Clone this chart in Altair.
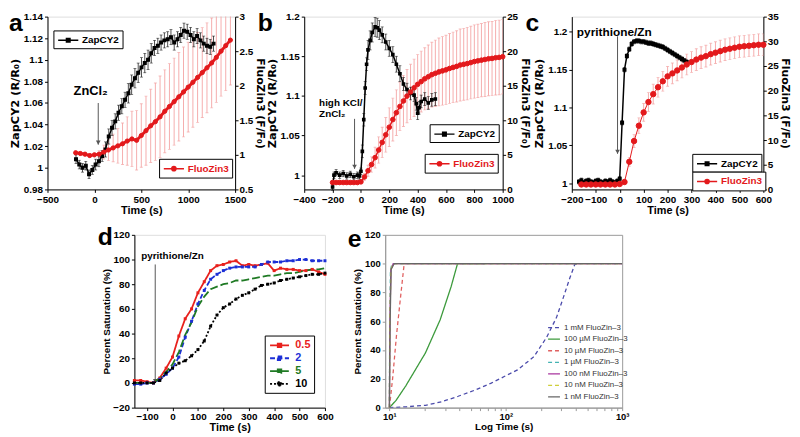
import altair as alt
import pandas as pd

FONT = "Liberation Sans"
TFONT = "DejaVu Sans"
RED = "#e3191c"
PINK = "#f4a4a4"
GRAY = "#555555"

# ---------------- panel a ----------------
a_zap_t = [-196, -161, -127, -92, -57, -22, 13, 48, 83, 118, 153, 188, 222, 257, 292, 327, 362, 397, 432, 467,
           502, 537, 572, 606, 641, 676, 711, 746, 781, 816, 851, 886, 920, 955, 990, 1025, 1060, 1095, 1130,
           1165, 1200, 1235, 1270]
a_zap_v = [1.008, 1.003, 1.000, 1.002, 0.994, 0.998, 1.003, 1.006, 1.011, 1.017, 1.029, 1.037, 1.043, 1.051,
           1.057, 1.063, 1.069, 1.077, 1.083, 1.088, 1.093, 1.097, 1.100, 1.106, 1.111, 1.113, 1.116, 1.118,
           1.119, 1.121, 1.116, 1.119, 1.123, 1.127, 1.126, 1.123, 1.119, 1.122, 1.118, 1.115, 1.113, 1.112, 1.115]
a_zap_e = [0.004, 0.004, 0.004, 0.004, 0.004, 0.004, 0.005, 0.005, 0.005, 0.007, 0.007, 0.007, 0.007, 0.007,
           0.007, 0.007, 0.009, 0.009, 0.009, 0.009, 0.009, 0.009, 0.009, 0.009, 0.007, 0.007, 0.007, 0.007,
           0.007, 0.007, 0.007, 0.007, 0.007, 0.007, 0.007, 0.007, 0.007, 0.007, 0.007, 0.007, 0.007, 0.007, 0.007]
a_fz_t = [-200, -150, -100, -50, 0, 50, 100, 150, 200, 250, 300, 350, 400, 450, 500, 550, 600, 650, 700, 750,
          800, 850, 900, 950, 1000, 1050, 1100, 1150, 1200, 1250, 1300, 1350, 1400, 1450]
a_fz_v = [1.03, 1.02, 1.01, 0.99, 1.0, 1.01, 1.04, 1.07, 1.1, 1.13, 1.16, 1.2, 1.23, 1.21, 1.28, 1.35, 1.42,
          1.48, 1.55, 1.63, 1.7, 1.77, 1.84, 1.91, 1.98, 2.05, 2.12, 2.19, 2.26, 2.33, 2.41, 2.5, 2.58, 2.66]
a_fz_e = [0.03, 0.03, 0.03, 0.03, 0.03, 0.05, 0.1, 0.15, 0.2, 0.25, 0.3, 0.35, 0.4, 0.43, 0.46, 0.5, 0.53,
          0.56, 0.59, 0.6, 0.62, 0.63, 0.64, 0.65, 0.65, 0.65, 0.65, 0.65, 0.65, 0.65, 0.65, 0.65, 0.65, 0.65]

# ---------------- panel b ----------------
b_zap_t = [-200, -190, -175, -150, -125, -100, -75, -50, -25, -10, 0, 10, 20, 30, 40, 50, 65, 80, 100, 115,
           130, 150, 175, 200, 225, 250, 275, 300, 325, 350, 375, 390, 400, 410, 425, 450, 475, 500, 525]
b_zap_v = [0.985, 1.0, 1.003, 1.0, 1.002, 0.999, 1.001, 0.998, 1.0, 0.999, 1.005, 1.03, 1.07, 1.11, 1.14,
           1.158, 1.17, 1.18, 1.187, 1.186, 1.183, 1.177, 1.168, 1.16, 1.152, 1.14, 1.128, 1.115, 1.108, 1.103,
           1.101, 1.09, 1.078, 1.085, 1.093, 1.096, 1.091, 1.095, 1.096]
b_zap_e = [0.004, 0.004, 0.004, 0.004, 0.004, 0.004, 0.004, 0.004, 0.004, 0.004, 0.004, 0.008, 0.008, 0.008,
           0.008, 0.012, 0.012, 0.012, 0.012, 0.012, 0.012, 0.01, 0.01, 0.01, 0.01, 0.01, 0.01, 0.008, 0.008,
           0.008, 0.008, 0.008, 0.008, 0.008, 0.008, 0.008, 0.008, 0.008, 0.008]
b_fz_t = [-200, -175, -150, -125, -100, -75, -50, -25, 0, 25, 50, 75, 100, 125, 150, 175, 200, 225, 250, 275,
          300, 325, 350, 375, 400, 425, 450, 475, 500, 525, 550, 575, 600, 625, 650, 675, 700, 725, 750, 775,
          800, 825, 850, 875, 900, 925, 950, 975, 1000]
b_fz_v = [1.0, 1.0, 1.0, 1.0, 1.0, 1.0, 1.0, 1.0, 1.1, 1.8, 2.7, 3.6, 4.6, 5.7, 6.8, 7.9, 9.0, 10.1, 11.1,
          12.0, 12.8, 13.5, 14.1, 14.7, 15.2, 15.6, 16.0, 16.3, 16.6, 16.8, 17.0, 17.15, 17.3, 17.5, 17.65,
          17.8, 18.0, 18.1, 18.2, 18.35, 18.5, 18.6, 18.7, 18.8, 18.9, 18.95, 19.05, 19.1, 19.2]
b_fz_e = [0.3, 0.3, 0.3, 0.3, 0.3, 0.3, 0.3, 0.3, 0.3, 0.5, 0.8, 1.1, 1.5, 1.9, 2.2, 2.5, 2.8, 3.1, 3.3, 3.5,
          3.7, 3.85, 4.0, 4.15, 4.3, 4.4, 4.5, 4.6, 4.7, 4.8, 4.9, 4.95, 5.0, 5.05, 5.1, 5.15, 5.2, 5.2, 5.25,
          5.25, 5.3, 5.3, 5.3, 5.35, 5.35, 5.35, 5.4, 5.4, 5.4]

# ---------------- panel c ----------------
c_zap_t = [-170, -160, -150, -140, -130, -120, -110, -100, -90, -80, -70, -60, -50, -40, -30, -20, -10, 0,
           10, 20, 30, 40, 50, 60, 70, 80, 90, 100, 110, 120, 130, 140, 150, 160, 170, 180, 190, 200, 210, 220,
           230, 240, 250, 260, 270, 280]
c_zap_v = [1.002, 1.004, 1.001, 1.003, 1.004, 1.002, 1.001, 1.003, 1.004, 1.002, 1.001, 1.003, 1.002, 1.004,
           1.002, 1.001, 1.003, 1.006, 1.08, 1.15, 1.168, 1.177, 1.184, 1.187, 1.188, 1.188, 1.187, 1.187, 1.186,
           1.185, 1.185, 1.184, 1.183, 1.182, 1.181, 1.18, 1.178, 1.176, 1.174, 1.172, 1.17, 1.168, 1.166,
           1.164, 1.162, 1.16]
c_zap_e = [0.003] * 46
c_fz_t = [-160, -140, -120, -100, -80, -60, -40, -20, 0, 20, 40, 60, 80, 100, 120, 140, 160, 180, 200, 220,
          240, 260, 280, 300, 320, 340, 360, 380, 400, 420, 440, 460, 480, 500, 520, 540, 560, 580, 600]
c_fz_v = [1.0, 1.0, 1.0, 1.0, 1.0, 1.0, 1.0, 1.0, 1.1, 1.5, 5.6, 9.8, 12.9, 15.6, 17.7, 19.3, 20.7, 21.9, 22.9,
          23.5, 24.1, 24.7, 25.3, 25.8, 26.3, 26.7, 27.0, 27.4, 27.7, 28.0, 28.3, 28.5, 28.7, 28.9, 29.0, 29.1,
          29.2, 29.3, 29.3]
c_fz_e = [0.3, 0.3, 0.3, 0.3, 0.3, 0.3, 0.3, 0.3, 0.3, 0.5, 0.9, 1.3, 1.6, 1.8, 1.9, 2.0, 2.0, 2.0, 2.0, 2.1,
          2.1, 2.1, 2.1, 2.1, 2.2, 2.2, 2.2, 2.2, 2.2, 2.2, 2.2, 2.2, 2.2, 2.2, 2.2, 2.2, 2.2, 2.2, 2.2]

# ---------------- panel d ----------------
d_t = [-150, -125, -100, -75, -50, -25, 0, 25, 50, 75, 100, 125, 150, 175, 200, 225, 250, 275, 300, 325, 350,
       375, 400, 425, 450, 475, 500, 525, 550, 575, 600]
d_conc = ["0.5", "2", "5", "10"]
d_05 = [2, 2, 1, 0, 4, 12, 21, 38, 52, 60, 73, 82, 91, 95, 96, 98, 99, 95, 96, 95, 96, 97, 91, 93, 92, 92, 91,
        91, 92, 90, 88]
d_2 = [-1, -1, 0, 0, 3, 7, 12, 21, 37, 50, 64, 75, 84, 88, 91, 93, 94, 94, 94, 94, 96, 98, 98, 98, 99, 99, 100,
       100, 99, 99, 99]
d_5 = [0, 0, 0, 0, 4, 9, 15, 25, 39, 49, 62, 70, 76, 78, 80, 81, 83, 83, 84, 85, 86, 87, 87, 88, 89, 89, 90,
       91, 92, 92, 93]
d_10 = [0, 0, 0, 0, 2, 8, 12, 16, 18, 22, 27, 34, 46, 55, 61, 64, 68, 71, 73, 76, 79, 80, 81, 83, 84, 85, 86,
        87, 88, 88, 89]
d_colors = ["#e8211d", "#1c2fd6", "#1f7a24", "#000000"]

# ---------------- panel e ----------------
e_names = ["1 mM FluoZin–3", "100 µM FluoZin–3", "10 µM FluoZin–3", "1 µM FluoZin–3",
           "100 nM FluoZin–3", "10 nM FluoZin–3", "1 nM FluoZin–3"]
e_colors = ["#4b4bab", "#3c9a3c", "#e06060", "#44b3b3", "#a8359e", "#cfcf3a", "#666666"]
e_x = [
    [10, 14, 20.4, 28, 39, 55, 75, 97, 126, 174, 225, 273, 312, 355, 391, 417],
    [10, 11.4, 13.8, 20.4, 27.3, 33.9, 38.5, 66],
    [10, 10.65, 11.5, 12.4, 13.4, 1000],
    [10, 10.05, 10.2, 10.5, 1000],
    [10, 10.1, 10.3, 10.8, 1000],
    [10, 10.1, 10.3, 10.8, 1000],
    [10, 10.15, 10.35, 11, 1000],
]
e_y = [
    [0, 0.6, 1.6, 4, 7.9, 12.3, 17, 21.6, 26.2, 35.3, 49, 62.7, 76.4, 90, 99.3, 100],
    [0, 5, 15, 38, 61, 84, 100, 100],
    [0, 20, 50, 75, 100, 100],
    [0, 50, 95, 100, 100],
    [0, 60, 96, 100, 100],
    [0, 60, 96, 100, 100],
    [0, 60, 96, 100, 100],
]


# ---------------- helpers ----------------
def series_df(t, v, e, name):
    return pd.DataFrame({"t": t, "v": v,
                         "lo": [a - b for a, b in zip(v, e)],
                         "hi": [a + b for a, b in zip(v, e)],
                         "s": name})


def x_axis(vals, title="Time (s)", size=11, lpad=1):
    return alt.Axis(values=vals, title=title, format="d", labelFont=FONT, labelFontSize=10,
                    labelFontWeight="bold", labelColor="black", titleFont=FONT, titleFontSize=size,
                    titleFontWeight="bold", titleColor="black", tickSize=3, tickColor="black",
                    domainColor="black", grid=False, labelPadding=lpad, titlePadding=0, labelFlush=False,
                    labelOverlap=False)


def y_axis(orient, vals, fmt, title, tfont=TFONT, tsize=11.5, tpad=3, lpad=2):
    return alt.Axis(orient=orient, values=vals, format=fmt, title=title, labelFont=FONT, labelFontSize=10,
                    labelFontWeight="bold", labelColor="black", titleFont=tfont, titleFontSize=tsize,
                    titleFontWeight="bold", titleColor="black", tickSize=3, tickColor="black",
                    domainColor="black", grid=False, labelPadding=lpad, titlePadding=tpad, labelFlush=False,
                    labelOverlap=False)


ZAP_SYM = "M-1.7,0H1.7M-0.3,-0.3H0.3V0.3H-0.3Z"
FZ_SYM = "M-1.7,0H1.7M0.35,0A0.35,0.35,0,1,1,-0.35,0A0.35,0.35,0,1,1,0.35,0Z"


def legend_box(pos, sym, labcolor):
    return alt.Legend(orient="none", legendX=pos[0], legendY=pos[1], title=None, strokeColor="black",
                      fillColor="white", padding=3, cornerRadius=0, symbolType=sym, symbolSize=144,
                      symbolOffset=5, labelOffset=7, labelFont=FONT, labelFontSize=10,
                      labelFontWeight="bold", labelColor=labcolor)


def letter_layer(letter, dx, dy, baseline="top"):
    return alt.Chart(pd.DataFrame({"L": [letter]})).mark_text(
        align="left", baseline=baseline, fontSize=25, fontWeight="bold", font=FONT, color="black"
    ).encode(text="L:N", x=alt.value(dx), y=alt.value(dy))


def dual_panel(cfg):
    xs = alt.Scale(domain=cfg["xdom"], nice=False, zero=False)
    ls = alt.Scale(domain=cfg["ldom"], nice=False, zero=False)
    rs = alt.Scale(domain=cfg["rdom"], nice=False, zero=False)
    X = alt.X("t:Q", scale=xs, axis=x_axis(cfg["xvals"], lpad=2.5))
    lax = y_axis("left", cfg["lvals"], cfg["lfmt"], "ZapCY2 (R/R₀)")
    rax = y_axis("right", cfg["rvals"], cfg["rfmt"], "FluoZin3 (F/F₀)", tsize=11, tpad=1.5, lpad=1)

    fzb = alt.Chart(cfg["fz"])
    zb = alt.Chart(cfg["zap"])

    def YR(f):
        return alt.Y(f, scale=rs, axis=None)

    def YL(f):
        return alt.Y(f, scale=ls, axis=lax)

    red_err = alt.layer(
        fzb.mark_rule(color=PINK, strokeWidth=0.9, clip=True).encode(x=X, y=YR("lo:Q"), y2="hi:Q"),
        fzb.mark_tick(orient="horizontal", color=PINK, size=3, thickness=0.9, clip=True).encode(x=X, y=YR("lo:Q")),
        fzb.mark_tick(orient="horizontal", color=PINK, size=3, thickness=0.9, clip=True).encode(x=X, y=YR("hi:Q")),
    )

    ann = alt.Chart(cfg["ann"])
    arr = alt.Chart(cfg["arrow"])
    black = alt.layer(
        zb.mark_rule(color="black", strokeWidth=0.7).encode(x=X, y=YL("lo:Q"), y2="hi:Q"),
        zb.mark_tick(orient="horizontal", color="black", size=3, thickness=0.7).encode(x=X, y=YL("lo:Q")),
        zb.mark_tick(orient="horizontal", color="black", size=3, thickness=0.7).encode(x=X, y=YL("hi:Q")),
        zb.mark_line(color="black", strokeWidth=1.5).encode(x=X, y=YL("v:Q")),
        zb.mark_point(shape="square", filled=True, size=cfg["zsize"], stroke="black", strokeWidth=1.2,
                      opacity=1).encode(
            x=X, y=YL("v:Q"),
            color=alt.Color("s:N", scale=alt.Scale(domain=["ZapCY2"], range=["black"]),
                            legend=legend_box(cfg["zleg"], ZAP_SYM, "black"))),
        arr.mark_rule(color=GRAY, strokeWidth=1).encode(x=X, y=YL("y1:Q"), y2="y2:Q"),
        arr.mark_point(shape="triangle-down", filled=True, size=22, color=GRAY, opacity=1,
                       yOffset=-2).encode(x=X, y=YL("y2:Q")),
        ann.mark_text(align=cfg["ann_align"], baseline="middle", font=FONT, fontWeight="bold",
                      fontSize=cfg["ann_size"], color="black").encode(x=X, y=YL("v:Q"), text="label:N"),
        letter_layer(cfg["letter"], cfg["ldx"], -5),
    )

    red_main = alt.layer(
        fzb.mark_line(color=RED, strokeWidth=cfg["rlw"]).encode(x=X, y=alt.Y("v:Q", scale=rs, axis=rax)),
        fzb.mark_point(shape="circle", filled=True, size=cfg["rsize"], stroke=RED, strokeWidth=1,
                       opacity=1).encode(
            x=X, y=alt.Y("v:Q", scale=rs, axis=rax),
            color=alt.Color("s:N", scale=alt.Scale(domain=["FluoZin3"], range=[RED]),
                            legend=legend_box(cfg["fleg"], FZ_SYM, RED))),
    )

    return alt.layer(red_err, black, red_main).resolve_scale(
        y="independent", color="independent").resolve_legend(color="independent").properties(
        width=cfg["w"], height=175)


H = 175

panel_a = dual_panel(dict(
    zap=series_df(a_zap_t, a_zap_v, a_zap_e, "ZapCY2"),
    fz=series_df(a_fz_t, a_fz_v, a_fz_e, "FluoZin3"),
    xdom=[-500, 1500], xvals=[-500, 0, 500, 1000, 1500],
    ldom=[0.98, 1.14], lvals=[0.98, 1.0, 1.02, 1.04, 1.06, 1.08, 1.1, 1.12, 1.14], lfmt=".2~f",
    rdom=[0.5, 3], rvals=[0.5, 1, 1.5, 2, 2.5, 3], rfmt="~g",
    zsize=8, rsize=18, rlw=3, w=190, zleg=(6, 14), fleg=(113, 144),
    ann=pd.DataFrame({"t": [-40], "v": [1.071], "label": ["ZnCl₂"]}), ann_align="center", ann_size=13,
    arrow=pd.DataFrame({"t": [41], "y1": [1.06], "y2": [1.0215]}),
    letter="a", ldx=-39,
))

panel_b = dual_panel(dict(
    zap=series_df(b_zap_t, b_zap_v, b_zap_e, "ZapCY2"),
    fz=series_df(b_fz_t, b_fz_v, b_fz_e, "FluoZin3"),
    xdom=[-400, 1000], xvals=[-400, -200, 0, 200, 400, 600, 800, 1000],
    ldom=[0.982, 1.2], lvals=[1.0, 1.05, 1.1, 1.15, 1.2], lfmt=".2~f",
    rdom=[0, 25], rvals=[0, 5, 10, 15, 20, 25], rfmt="d",
    zsize=6, rsize=22, rlw=1.5, w=201, zleg=(127, 109), fleg=(122, 139),
    ann=pd.DataFrame({"t": [-295, -295], "v": [1.0916, 1.0767], "label": ["high KCl/", "ZnCl₂"]}),
    ann_align="left", ann_size=10,
    arrow=pd.DataFrame({"t": [-45], "y1": [1.071], "y2": [1.008]}),
    letter="b", ldx=-47,
))

panel_c = dual_panel(dict(
    zap=series_df(c_zap_t, c_zap_v, c_zap_e, "ZapCY2"),
    fz=series_df(c_fz_t, c_fz_v, c_fz_e, "FluoZin3"),
    xdom=[-200, 600], xvals=[-200, -100, 0, 100, 200, 300, 400, 500, 600],
    ldom=[0.992, 1.22], lvals=[1.0, 1.05, 1.1, 1.15, 1.2], lfmt=".2~f",
    rdom=[0, 35], rvals=[0, 5, 10, 15, 20, 25, 30, 35], rfmt="d",
    zsize=8, rsize=30, rlw=1, w=194, zleg=(122, 139), fleg=(122, 157),
    ann=pd.DataFrame({"t": [-179], "v": [1.2], "label": ["pyrithione/Zn"]}), ann_align="left", ann_size=12,
    arrow=pd.DataFrame({"t": [-9], "y1": [1.194], "y2": [1.039]}),
    letter="c", ldx=-47,
))

# ---------------- panel d chart ----------------
d_rows = []
for name, vals in zip(d_conc, [d_05, d_2, d_5, d_10]):
    for t, v in zip(d_t, vals):
        d_rows.append({"t": t, "v": v, "conc": name})
d_df = pd.DataFrame(d_rows)

d_yscale = alt.Scale(domain=[-20, 120], nice=False, zero=False)
d_yaxis = y_axis("left", [-20, 0, 20, 40, 60, 80, 100, 120], "d", "Percent Saturation (%)",
                 tfont=FONT, tsize=10, tpad=1.5)
Xd = alt.X("t:Q", scale=alt.Scale(domain=[-150, 600], nice=False, zero=False),
           axis=x_axis([-100, 0, 100, 200, 300, 400, 500, 600]))
d_cscale = alt.Scale(domain=d_conc, range=d_colors)
d_dscale = alt.Scale(domain=d_conc, range=[[1, 0], [5, 2.5], [8, 3], [2, 2]])
D_SYM = "M-1.6,0H1.6M-0.3,-0.3H0.3V0.3H-0.3Z"
d_leg = alt.Legend(orient="none", legendX=132, legendY=102, title=None, strokeColor="black", fillColor="white",
                   padding=3, cornerRadius=0, symbolType=D_SYM, symbolSize=144, symbolStrokeWidth=1.8,
                   symbolOffset=5, labelOffset=9, labelFont=FONT, labelFontSize=11, labelFontWeight="bold",
                   rowPadding=0,
                   labelColor=alt.ExprRef(expr="datum.label == '0.5' ? '#e8211d' : datum.label == '2' ? '#1c2fd6' : datum.label == '5' ? '#1f7a24' : '#000000'"))

d_ann = pd.DataFrame({"t": [-123], "v": [102.5], "label": ["pyrithione/Zn"]})
d_arrow = pd.DataFrame({"t": [-68], "y1": [96], "y2": [0]})

panel_d = alt.layer(
    alt.Chart(d_arrow).mark_rule(color=GRAY, strokeWidth=1).encode(
        x=Xd, y=alt.Y("y1:Q", scale=d_yscale, axis=d_yaxis), y2="y2:Q"),
    alt.Chart(d_arrow).mark_point(shape="triangle-down", filled=True, size=22, color=GRAY, opacity=1,
                                  yOffset=-2).encode(x=Xd, y=alt.Y("y2:Q", scale=d_yscale, axis=d_yaxis)),
    alt.Chart(d_df).mark_line(strokeWidth=1.8).encode(
        x=Xd, y=alt.Y("v:Q", scale=d_yscale, axis=d_yaxis),
        color=alt.Color("conc:N", scale=d_cscale, legend=d_leg),
        strokeDash=alt.StrokeDash("conc:N", scale=d_dscale, legend=d_leg)),
    alt.Chart(d_df).transform_filter("datum.conc != '5'").mark_point(
        shape="square", filled=True, size=9, opacity=1).encode(
        x=Xd, y=alt.Y("v:Q", scale=d_yscale, axis=d_yaxis),
        color=alt.Color("conc:N", scale=d_cscale, legend=None)),
    alt.Chart(d_ann).mark_text(align="left", baseline="middle", font=FONT, fontWeight="bold", fontSize=10,
                               color="black").encode(x=Xd, y=alt.Y("v:Q", scale=d_yscale, axis=d_yaxis),
                                                     text="label:N"),
    letter_layer("d", -37, 10, baseline="alphabetic"),
).properties(width=193, height=H)

# ---------------- panel e chart ----------------
e_rows = []
for name, xs_, ys_ in zip(e_names, e_x, e_y):
    for i, (xv, yv) in enumerate(zip(xs_, ys_)):
        e_rows.append({"x": xv, "y": yv, "model": name, "i": i})
e_df = pd.DataFrame(e_rows)

e_xaxis = alt.Axis(values=[10, 20, 30, 40, 50, 60, 70, 80, 90, 100, 200, 300, 400, 500, 600, 700, 800, 900, 1000],
                   labelExpr="datum.value == 10 ? '10¹' : datum.value == 100 ? '10²' : datum.value == 1000 ? '10³' : ''",
                   title="Log Time (s)", labelFont=FONT, labelFontSize=9.5, labelFontWeight="bold",
                   labelColor="black", titleFont=FONT, titleFontSize=10, titleFontWeight="bold",
                   titleColor="black", tickSize=3, tickColor="#999999", domainColor="#999999", grid=False,
                   labelPadding=1, titlePadding=1, labelFlush=False, labelOverlap=False)
e_yaxis = alt.Axis(values=[0, 20, 40, 60, 80, 100, 120], format="d", title="Percent Saturation (%)",
                   labelFont=FONT, labelFontSize=9.5, labelFontWeight="bold", labelColor="black",
                   titleFont=FONT, titleFontSize=10, titleFontWeight="bold", titleColor="black", tickSize=3,
                   tickColor="#999999", domainColor="#999999", grid=False, labelPadding=2, titlePadding=2,
                   labelOverlap=False)
e_leg = alt.Legend(orient="none", legendX=163, legendY=86, title=None, padding=1, symbolType="stroke",
                   symbolSize=144, symbolStrokeWidth=1.3, rowPadding=0.7, labelFont=FONT, labelFontSize=8,
                   labelColor="#333333", labelOffset=3)

panel_e = alt.layer(
    alt.Chart(e_df).mark_line(strokeWidth=1.3, clip=True).encode(
        x=alt.X("x:Q", scale=alt.Scale(type="log", domain=[9.2, 1000], nice=False), axis=e_xaxis),
        y=alt.Y("y:Q", scale=alt.Scale(domain=[0, 120], nice=False, zero=False), axis=e_yaxis),
        color=alt.Color("model:N", scale=alt.Scale(domain=e_names, range=e_colors), legend=e_leg),
        strokeDash=alt.StrokeDash("model:N", scale=alt.Scale(
            domain=e_names, range=[[4, 3], [1, 0], [4, 3], [4, 3], [1, 0], [4, 3], [1, 0]]), legend=e_leg),
        order="i:Q"),
    letter_layer("e", -38, 12, baseline="alphabetic"),
).properties(width=240, height=H, view=alt.ViewBackground(stroke="#999999"))


def spacer(w):
    return alt.Chart(pd.DataFrame({"z": [0]})).mark_point(opacity=0).encode(
        x=alt.X("z:Q", axis=None), y=alt.Y("z:Q", axis=None)
    ).properties(width=w, height=H, view=alt.ViewBackground(stroke="transparent"))


def indep(ch):
    return ch.resolve_scale(color="independent", strokeDash="independent").resolve_legend(
        color="independent", strokeDash="independent")


row1 = indep(alt.hconcat(panel_a, panel_b, panel_c, spacing=70, bounds="flush"))
row2 = indep(alt.hconcat(spacer(27), panel_d, panel_e, spacing=61, bounds="flush"))

chart = indep(alt.vconcat(row1, row2, spacing=8)).properties(
    padding=0, background="white").configure_view(stroke="black", strokeWidth=1).configure(font=FONT)

chart.save("out.html", embed_options={"renderer": "svg", "actions": False})
